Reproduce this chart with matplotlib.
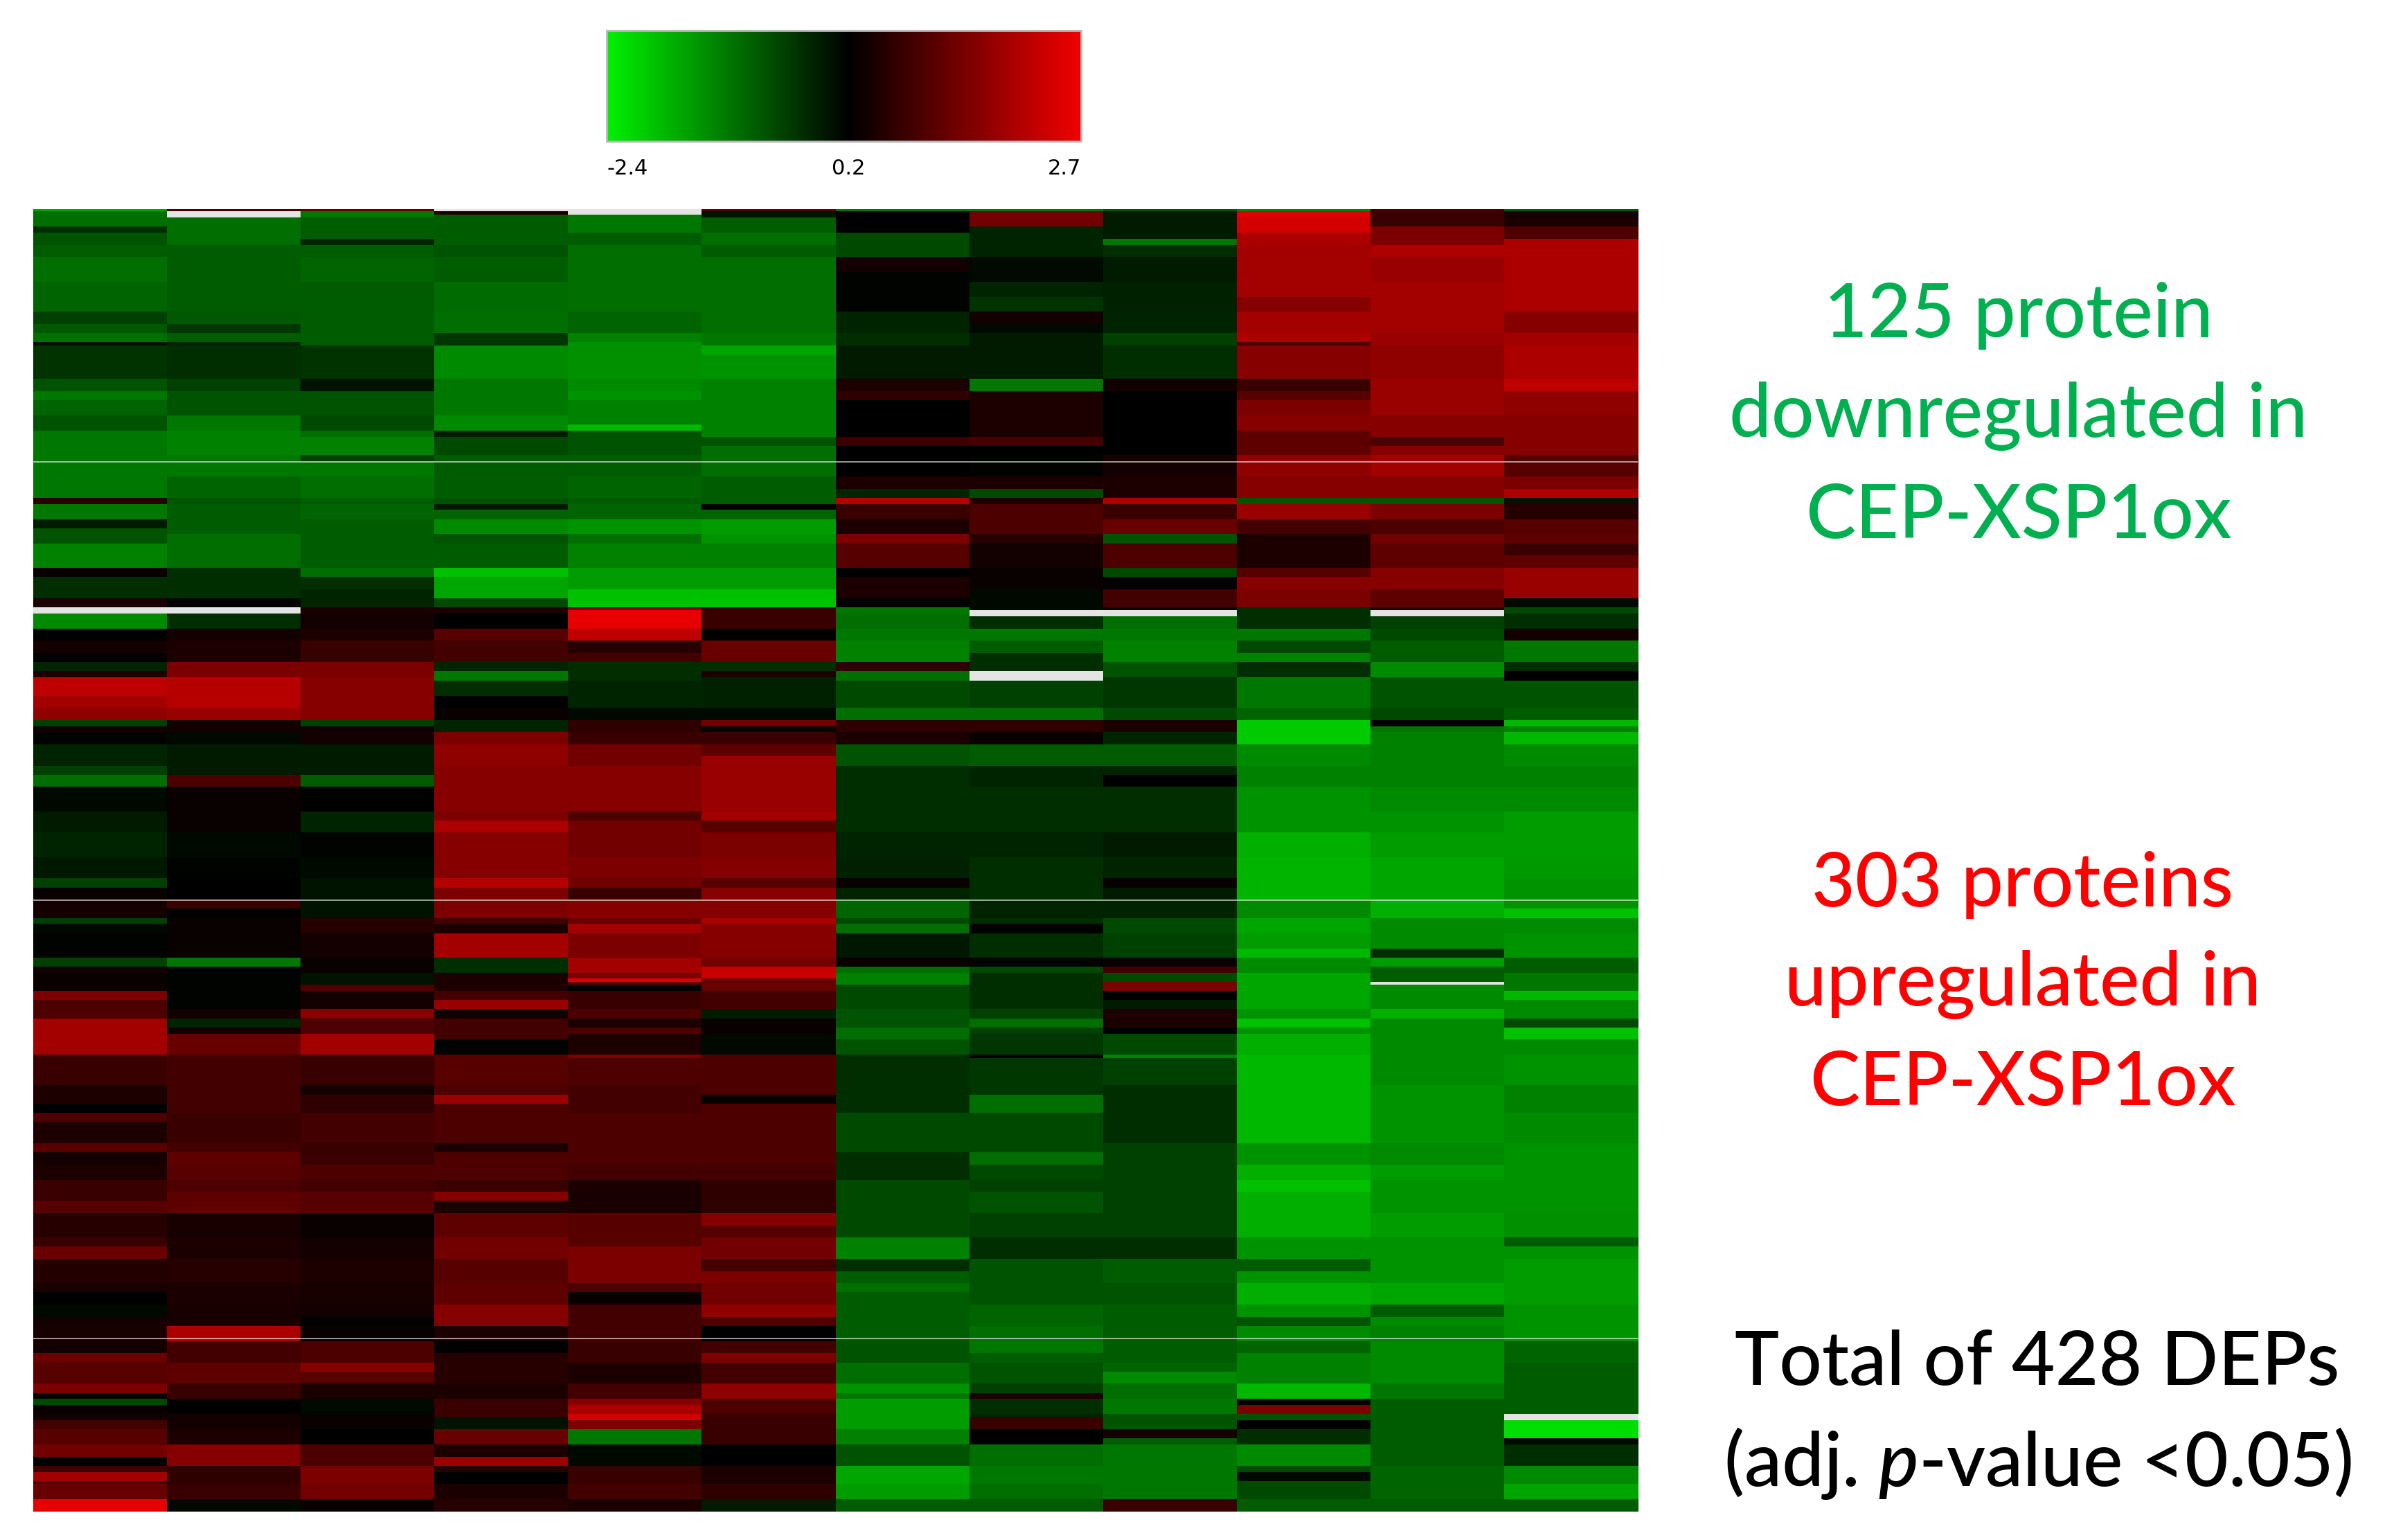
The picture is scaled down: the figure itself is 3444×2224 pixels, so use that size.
import numpy as np
import matplotlib.pyplot as plt
from matplotlib.colors import LinearSegmentedColormap

nan = np.nan

# log-ratio values, band by band (rows per band, 12 samples per row)
band_rows = [1, 1, 1, 3, 2, 2, 2, 4, 5, 3,
             5, 5, 4, 3, 3, 1, 3, 8, 4, 3,
             5, 3, 2, 2, 3, 3, 2, 5, 4, 3,
             2, 2, 3, 3, 2, 3, 4, 4, 3, 4,
             3, 3, 1, 1, 1, 4, 4, 4, 3, 3,
             2, 1, 5, 4, 4, 2, 2, 4, 4, 3,
             3, 4, 8, 3, 4, 8,
             7, 3, 4, 3, 3, 2, 3, 5, 3, 3,
             2, 2, 1, 1, 2, 3, 3, 3, 3, 2,
             2, 5, 1, 9, 3, 3, 3, 3, 7, 3,
             4, 5, 4, 3, 4, 4, 4, 3, 4, 4,
             4, 3, 4, 4, 3, 5, 4, 3, 3, 4,
             3, 2, 2, 3, 1, 1, 3, 3, 2, 4,
             3, 2, 3, 1, 5, 4]

band_values = [
    # 125 proteins down in CEP-XSP1ox
    [-1.6, 1.0, 1.2, nan, nan, 1.2, -1.1, -1.1, -0.7, -1.2, 0.9, -0.8],
    [-1.0, nan, -1.1, 0.5, nan, 0.0, 0.2, 1.4, -0.1, 2.5, 0.8, 0.4],
    [-1.0, nan, -1.1, -0.8, -1.1, 0.0, 0.2, 1.4, -0.1, 2.5, 0.8, 0.4],
    [-1.0, -1.0, -0.8, -0.8, -1.1, -0.8, 0.2, 1.4, -0.1, 2.4, 0.8, 0.5],
    [-0.3, -1.0, -0.8, -0.8, -1.1, -0.8, 0.2, -0.2, -0.1, 2.4, 1.5, 1.0],
    [-0.7, -1.0, -0.8, -0.8, -0.8, -1.0, -0.6, -0.2, -0.1, 2.0, 1.5, 1.0],
    [-0.7, -1.0, -0.2, -0.8, -0.8, -1.0, -0.6, -0.2, -1.1, 2.0, 1.5, 2.0],
    [-0.8, -0.8, -0.8, -0.7, -1.0, -0.8, -0.6, -0.2, -0.3, 1.9, 2.0, 2.0],
    [-1.0, -0.8, -0.9, -0.8, -1.0, -1.0, 0.4, 0.1, -0.1, 1.9, 1.8, 2.0],
    [-1.0, -0.8, -0.9, -0.8, -1.0, -1.0, 0.15, 0.1, -0.1, 1.9, 1.8, 2.0],
    [-0.9, -0.8, -0.8, -0.95, -1.0, -1.0, 0.15, -0.2, -0.15, 1.9, 1.9, 2.0],
    [-0.9, -0.8, -0.8, -0.95, -1.0, -1.0, 0.15, -0.35, -0.15, 1.6, 1.9, 2.0],
    [-0.5, -0.75, -0.8, -1.0, -0.9, -1.0, -0.2, 0.4, -0.2, 1.9, 1.9, 1.6],
    [-0.75, -0.4, -0.8, -1.0, -0.9, -1.0, -0.2, 0.1, -0.2, 1.9, 1.9, 1.6],
    [-1.0, -0.8, -0.8, -0.4, -1.2, -1.1, -0.3, -0.1, -0.5, 2.0, 1.8, 1.9],
    [0.0, -0.2, -0.8, -0.4, -1.4, -1.1, -0.3, -0.1, -0.5, 1.0, 1.8, 1.9],
    [-0.35, -0.3, -0.35, -1.3, -1.35, -1.6, -0.1, -0.1, -0.3, 1.6, 1.7, 2.0],
    [-0.35, -0.3, -0.35, -1.3, -1.35, -1.4, -0.1, -0.1, -0.3, 1.6, 1.7, 2.0],
    [-0.7, -0.5, 0.0, -1.1, -1.3, -1.2, 0.5, -1.1, 0.4, 0.8, 1.8, 2.2],
    [-1.1, -0.7, -0.7, -1.1, -1.4, -1.2, 0.7, 0.5, 0.2, 1.1, 1.8, 1.7],
    [-0.9, -0.7, -0.7, -1.1, -1.2, -1.2, 0.2, 0.5, 0.2, 1.5, 1.8, 1.7],
    [-0.7, -1.1, -0.6, -1.3, -1.2, -1.2, 0.2, 0.5, 0.2, 1.6, 1.6, 1.6],
    [-0.7, -1.1, -0.6, -1.3, -1.8, -1.2, 0.2, 0.5, 0.2, 1.6, 1.6, 1.6],
    [-1.1, -1.2, -1.0, -0.1, -0.7, -1.2, 0.2, 0.5, 0.2, 1.2, 1.6, 1.6],
    [-1.1, -1.2, -1.2, -0.6, -0.7, -0.7, 0.8, 0.9, 0.2, 1.2, 1.0, 1.6],
    [-1.1, -1.2, -1.2, -0.6, -0.7, -1.0, 0.2, 0.2, 0.2, 1.2, 1.6, 1.6],
    [-1.1, -1.1, -0.5, -0.8, -0.8, -1.0, 0.2, 0.15, 0.4, 1.7, 1.9, 1.1],
    [-1.1, -1.1, -1.1, -0.8, -0.8, -1.0, 0.2, 0.15, 0.4, 1.7, 1.9, 1.1],
    [-1.1, -0.9, -1.0, -0.8, -0.9, -0.8, 0.5, 0.5, 0.5, 1.6, 1.6, 1.5],
    [-1.1, -0.9, -1.0, -0.8, -0.9, -0.8, -0.2, -0.6, 0.5, 1.6, 1.6, 2.0],
    [0.6, -0.7, -0.8, -0.7, -0.8, -0.8, 2.1, 0.5, 2.0, -0.7, -0.7, 0.0],
    [-1.1, -0.8, -0.9, -0.1, -0.9, 0.2, 0.8, 1.0, 0.8, 1.8, 1.5, 0.6],
    [-1.1, -0.8, -0.9, -0.9, -0.9, -0.9, 0.8, 1.0, 0.8, 1.8, 1.5, 0.6],
    [-0.1, -0.8, -0.8, -1.3, -1.4, -1.5, 0.5, 1.0, 1.3, 0.9, 1.0, 1.1],
    [-0.7, -0.8, -0.8, -1.3, -1.4, -1.5, 0.5, 1.0, 1.3, 0.9, 1.0, 1.1],
    [-0.7, -1.0, -0.8, -0.7, -1.0, -1.4, 1.5, 0.6, -0.7, 0.5, 1.4, 1.2],
    [-1.2, -1.0, -0.8, -0.8, -1.2, -1.2, 1.1, 0.4, 1.0, 0.5, 1.2, 0.8],
    [-1.2, -1.0, -0.8, -0.8, -1.2, -1.2, 1.1, 0.4, 1.0, 0.5, 1.2, 1.2],
    [0.3, -0.3, -1.0, -1.9, -1.5, -1.5, 0.2, 0.3, -0.6, 1.1, 1.6, 1.8],
    [-0.3, -0.3, -0.3, -1.6, -1.5, -1.5, 0.5, 0.3, 0.2, 1.6, 1.6, 1.8],
    [-0.3, -0.3, -0.2, -1.6, -1.9, -1.9, 0.5, 0.1, 0.9, 1.5, 1.2, 1.8],
    [0.5, 0.2, -0.2, -0.6, -1.9, -1.9, 0.2, 0.1, 0.9, 1.5, 1.2, 0.1],
    # 303 proteins up in CEP-XSP1ox
    [nan, nan, 0.5, 0.5, 1.5, 0.8, -1.1, 0.1, 0.3, -0.3, 0.5, -0.6],
    [nan, nan, 0.5, 0.5, 2.6, 0.8, -1.1, nan, nan, -0.3, nan, -0.6],
    [-1.3, -0.3, 0.4, 0.2, 2.6, 0.8, -1.0, nan, nan, -0.3, nan, -0.3],
    [-1.3, -0.3, 0.4, 0.2, 2.6, 0.8, -1.0, -0.3, -1.0, -0.3, -0.5, -0.3],
    [0.2, 0.4, 0.5, 1.1, 2.2, 0.2, -1.1, -1.1, -1.1, -1.1, -0.6, 0.4],
    [0.4, 0.5, 0.8, 0.9, 0.6, 1.3, -1.2, -0.8, -1.2, -0.6, -0.8, -1.1],
    [0.2, 0.5, 0.8, 0.9, 0.9, 1.3, -1.2, -0.3, -1.2, -1.2, -0.8, -1.1],
    [-0.2, 1.5, 1.5, -0.2, -0.3, -0.3, 0.7, -0.3, -0.7, -0.3, -1.3, -0.3],
    [0.5, 1.5, 1.5, -1.1, -0.3, 0.5, -1.0, nan, -0.7, -0.3, -1.3, 0.2],
    [2.2, 2.1, 1.6, -1.1, -0.3, -0.15, -1.0, nan, -0.4, -1.1, -0.7, 0.2],
    [2.2, 2.1, 1.6, -0.3, -0.2, -0.15, -0.6, -0.5, -0.4, -1.1, -0.7, -0.7],
    [1.9, 2.1, 1.6, 0.2, -0.2, -0.15, -0.6, -0.5, -0.4, -1.1, -0.7, -0.7],
    [1.7, 1.8, 1.6, 0.3, 0.1, 0.1, -1.0, -1.0, -0.6, -0.9, -0.6, -0.8],
    [-0.5, 0.4, -0.5, -0.2, 0.7, 1.4, 0.7, 0.7, 0.5, -2.0, 0.2, -1.8],
    [0.4, 0.4, 0.4, -0.2, 0.7, 0.1, 0.7, 0.7, 0.5, -2.0, -1.1, -1.2],
    [0.15, 0.1, 0.4, 1.5, 0.8, 0.8, 0.5, 0.3, -0.2, -2.0, -1.2, -1.8],
    [-0.2, -0.1, -0.1, 1.7, 1.4, 1.2, -0.7, -0.8, -0.8, -1.3, -1.2, -1.3],
    [-0.2, -0.1, -0.1, 1.7, 1.4, 1.8, -0.7, -0.8, -0.8, -1.3, -1.2, -1.3],
    [-0.5, -0.1, -0.1, 1.6, 1.6, 1.8, -0.3, -0.2, -0.2, -1.2, -1.2, -1.2],
    [-1.0, 1.0, -0.8, 1.6, 1.6, 1.8, -0.3, -0.2, 0.2, -1.2, -1.2, -1.2],
    [0.1, 0.3, 0.2, 1.6, 1.6, 1.8, -0.3, -0.3, -0.3, -1.4, -1.3, -1.3],
    [-0.1, 0.3, -0.2, 1.5, 1.0, 1.9, -0.3, -0.3, -0.3, -1.4, -1.4, -1.5],
    [-0.1, 0.3, -0.2, 2.0, 1.4, 1.1, -0.3, -0.3, -0.3, -1.4, -1.4, -1.5],
    [-0.2, 0.1, 0.15, 1.6, 1.4, 1.5, -0.2, -0.2, -0.1, -1.7, -1.5, -1.5],
    [-0.05, 0.15, 0.1, 1.6, 1.5, 1.55, -0.15, -0.3, -0.2, -1.75, -1.6, -1.45],
    [-0.5, 0.2, 0.0, 2.1, 1.4, 1.1, 0.3, -0.3, 0.3, -1.75, -1.6, -1.4],
    [0.3, 0.2, 0.0, 1.5, 0.8, 1.6, -0.2, -0.3, -0.1, -1.75, -1.6, -1.4],
    [0.4, 0.8, 0.0, 1.5, 1.6, 1.6, -0.9, -0.2, -0.2, -1.3, -1.7, -1.4],
    [0.4, 0.2, 0.0, 1.5, 1.6, 1.6, -0.9, -0.2, -0.2, -1.3, -1.7, -1.9],
    [-0.5, 0.3, 0.6, 0.9, 1.3, 2.0, -0.6, -0.3, -0.6, -1.6, -1.3, -1.3],
    [0.1, 0.3, 0.6, 0.5, 1.9, 1.6, -1.0, 0.2, -0.6, -1.6, -1.3, -1.3],
    [0.15, 0.3, 0.4, 1.9, 1.5, 1.6, -0.05, -0.3, -0.5, -1.5, -1.3, -1.4],
    [0.15, 0.3, 0.4, 1.9, 1.5, 1.6, -0.05, -0.3, -0.5, -1.8, -0.3, -1.4],
    [-0.5, -1.1, 0.3, -0.3, 1.9, 1.4, 0.3, 0.2, 0.3, -1.3, -1.5, -0.8],
    [0.4, 0.15, 0.3, -0.3, 1.9, 2.3, -1.0, -0.6, 0.9, -1.3, -0.8, -0.8],
    [0.3, 0.15, 0.0, 0.5, 1.5, 2.3, -1.2, -0.3, -0.6, -1.6, -0.8, -1.1],
    [0.3, 0.15, 0.0, 0.5, 2.5, 1.3, -1.2, -0.3, -0.6, -1.6, -0.8, -1.1],
    [0.3, 0.15, 0.0, 0.5, 1.2, 1.3, -1.2, -0.3, 1.5, -1.6, nan, -1.1],
    [0.3, 0.15, 1.0, 0.5, 0.2, 1.3, -0.6, -0.3, 1.5, -1.6, -1.3, -1.1],
    [1.5, 0.15, 0.4, 0.9, 0.8, 0.9, -0.6, -0.3, 0.2, -1.6, -1.3, -1.8],
    [1.0, 0.15, 0.4, 1.8, 0.8, 0.9, -0.6, -0.3, -0.1, -1.6, -1.3, -1.3],
    [1.0, 0.4, 1.6, 0.4, 1.0, -0.1, -0.7, -0.5, 0.5, -1.4, -1.7, -1.3],
    [1.9, -0.2, 1.0, 0.9, 0.5, 0.3, -0.7, -1.0, 0.5, -1.9, -1.3, -0.6],
    [1.9, 0.4, 1.0, 0.9, 1.0, 0.3, -1.0, -0.5, 0.2, -1.4, -1.3, -1.9],
    [1.9, 1.3, 1.9, 0.9, 0.5, 0.1, -1.0, -0.4, -0.6, -1.7, -1.3, -1.9],
    [1.9, 1.3, 1.9, 0.15, 0.5, 0.1, -0.7, -0.4, -0.6, -1.7, -1.3, -1.3],
    [0.8, 0.9, 0.8, 1.1, 1.5, 1.0, -0.3, 0.2, -1.2, -1.8, -1.3, -1.4],
    [0.8, 0.9, 0.8, 1.1, 1.0, 1.0, -0.3, -0.4, -0.5, -1.8, -1.3, -1.4],
    [0.5, 0.9, 0.4, 1.0, 0.9, 1.0, -0.3, -0.4, -0.3, -1.8, -1.4, -1.2],
    [0.5, 0.9, 0.7, 1.8, 0.9, 0.3, -0.3, -1.0, -0.3, -1.8, -1.4, -1.2],
    [0.2, 0.9, 0.7, 1.0, 0.9, 1.0, -0.3, -1.0, -0.3, -1.8, -1.4, -1.2],
    [1.0, 0.8, 0.9, 1.0, 1.0, 1.0, -0.6, -0.6, -0.3, -1.8, -1.4, -1.3],
    [0.5, 0.8, 0.9, 1.0, 1.0, 1.0, -0.6, -0.6, -0.3, -1.8, -1.4, -1.3],
    [1.1, 0.9, 0.8, 0.5, 1.0, 1.0, -0.6, -0.6, -0.5, -1.4, -1.3, -1.4],
    [0.4, 1.2, 0.8, 1.0, 1.0, 1.0, -0.3, -1.0, -0.5, -1.4, -1.3, -1.4],
    [0.5, 1.1, 1.0, 1.0, 0.9, 0.9, -0.3, -0.6, -0.5, -1.7, -1.5, -1.4],
    [0.8, 1.0, 0.9, 0.8, 0.5, 0.7, -0.6, -0.5, -0.5, -1.9, -1.4, -1.4],
    [0.8, 1.2, 1.1, 1.6, 0.45, 0.7, -0.6, -0.7, -0.5, -1.7, -1.4, -1.4],
    [1.1, 1.2, 1.1, 0.5, 0.45, 0.7, -0.6, -0.7, -0.5, -1.7, -1.4, -1.4],
    [0.6, 0.45, 0.3, 1.2, 1.1, 1.6, -0.6, -0.5, -0.5, -1.7, -1.5, -1.35],
    [0.6, 0.45, 0.3, 1.2, 1.1, 1.1, -0.6, -0.5, -0.5, -1.7, -1.5, -1.35],
    [0.8, 0.5, 0.4, 1.4, 1.1, 1.4, -1.2, -0.3, -0.3, -1.4, -1.4, -0.8],
    [1.3, 0.5, 0.4, 1.4, 1.5, 1.4, -1.2, -0.3, -0.3, -1.4, -1.4, -1.4],
    [0.55, 0.6, 0.5, 1.1, 1.5, 0.9, -0.3, -0.7, -0.8, -0.8, -1.4, -1.5],
    [0.55, 0.6, 0.5, 1.1, 1.5, 1.5, -0.8, -0.7, -0.8, -1.4, -1.4, -1.5],
    [0.45, 0.5, 0.45, 1.2, 1.0, 1.4, -1.0, -0.7, -0.7, -1.7, -1.6, -1.5],
    [0.2, 0.5, 0.45, 1.2, 0.3, 1.4, -0.8, -0.7, -0.7, -1.7, -1.6, -1.5],
    [0.1, 0.45, 0.4, 1.6, 0.9, 1.7, -0.8, -0.9, -0.8, -1.4, -0.8, -1.4],
    [0.4, 0.45, 0.2, 1.6, 0.9, 1.0, -0.8, -0.9, -0.8, -0.7, -1.3, -1.4],
    [0.45, 2.0, 0.3, 0.5, 0.9, 0.2, -0.8, -1.0, -0.8, -1.3, -1.2, -1.4],
    [0.4, 0.9, 1.0, 0.2, 0.8, 0.9, -0.7, -1.1, -0.8, -0.9, -1.3, -0.9],
    [1.3, 0.9, 1.0, 0.6, 0.8, 1.5, -0.7, -0.8, -0.8, -1.2, -1.3, -0.9],
    [1.1, 1.2, 1.6, 0.6, 0.5, 0.9, -1.0, -0.7, -0.9, -1.2, -1.3, -0.8],
    [1.1, 1.2, 1.1, 0.6, 0.5, 0.9, -1.0, -0.7, -1.3, -1.2, -1.3, -0.8],
    [1.5, 0.8, 0.5, 0.5, 0.9, 1.7, -1.4, -0.5, -1.0, -1.8, -1.1, -0.8],
    [0.3, 0.8, 0.5, 0.5, 0.9, 1.7, -1.1, 0.5, -1.0, -1.8, -1.1, -0.8],
    [-0.6, 0.2, 0.1, 0.8, 1.6, 1.0, -1.5, -0.3, -1.1, 0.2, -0.8, -0.8],
    [0.3, 0.2, 0.1, 0.8, 2.0, 1.0, -1.5, -0.3, -1.1, 1.5, -0.8, -0.8],
    [0.4, 0.4, 0.3, 0.8, 2.4, 0.8, -1.5, -0.2, -0.7, -0.7, -0.8, nan],
    [0.4, 0.4, 0.3, 0.0, 2.4, 0.8, -1.5, 0.8, -0.7, -0.7, -0.8, nan],
    [0.9, 0.4, 0.3, 0.0, 1.5, 0.8, -1.5, 0.8, -0.7, 0.2, -0.8, -2.2],
    [1.1, 0.5, 0.2, 1.3, -1.1, 0.8, -1.2, 0.2, 0.4, -0.3, -0.8, -2.2],
    [1.1, 0.5, 0.2, 1.3, -1.1, 0.8, -1.2, 0.2, -0.8, -0.3, -0.8, 0.1],
    [1.4, 1.6, 1.0, 0.5, 0.1, 0.2, -0.7, -1.0, -1.1, -1.3, -0.8, -0.3],
    [0.2, 1.6, 1.0, 1.8, 0.1, 0.2, -0.7, -1.0, -1.1, -1.3, -0.8, -0.3],
    [0.9, 0.7, 1.5, 0.6, 0.8, 0.5, -1.6, -1.1, -1.1, -0.6, -0.9, -1.3],
    [1.9, 0.7, 1.5, 0.2, 0.8, 0.5, -1.6, -1.1, -1.1, 0.1, -0.9, -1.3],
    [0.9, 0.7, 1.5, 0.2, 0.8, 0.5, -1.6, -1.1, -1.1, -0.6, -0.9, -1.3],
    [1.3, 0.8, 1.4, 0.5, 0.9, 0.7, -1.5, -1.0, -1.1, -0.6, -0.9, -1.6],
    [2.6, 0.1, 0.3, 0.6, 0.5, -0.1, -0.8, -0.8, 0.8, -0.8, -0.8, -0.8],
]

seam_rows = [83, 227, 371]
cbar_ticks = [-2.4, 0.2, 2.7]
cbar_labels = ['-2.4', '0.2', '2.7']

assert len(band_rows) == len(band_values)
values = np.repeat(np.array(band_values), band_rows, axis=0)
assert values.shape == (428, 12), values.shape

plt.rcParams['mathtext.fontset'] = 'custom'
plt.rcParams['mathtext.rm'] = 'Lato'
plt.rcParams['mathtext.it'] = 'Lato:italic:medium'

vmin, vmid, vmax = -2.4, 0.2, 2.7
mid = (vmid - vmin) / (vmax - vmin)
cmap = LinearSegmentedColormap.from_list(
    'gkr', [(0, '#00f000'), (mid, '#000000'), (1, '#f00000')])
cmap.set_bad('#e4e4e4')

fig = plt.figure(figsize=(17.22, 11.12), dpi=200)

ax = fig.add_axes([0.0139, 0.0184, 0.6728, 0.8458])
im = ax.imshow(values, cmap=cmap, vmin=vmin, vmax=vmax,
               aspect='auto', interpolation='nearest')
for r in seam_rows:
    ax.axhline(r - 0.5, color='white', lw=0.6, alpha=0.7)
ax.axis('off')

# colour key on top
cax = fig.add_axes([0.2544, 0.9083, 0.1989, 0.0719])
cb = fig.colorbar(im, cax=cax, orientation='horizontal', ticks=cbar_ticks)
cb.set_ticklabels(cbar_labels)
cb.outline.set_edgecolor('#b8b8b8')
cb.outline.set_linewidth(1.0)
cax.tick_params(length=0, pad=9, labelsize=11)
for lab, ha in zip(cax.get_xticklabels(), ['left', 'center', 'right']):
    lab.set_ha(ha)
    lab.set_family(['Liberation Sans Narrow', 'DejaVu Sans'])

green = '#00b050'
red = '#ff0000'
fs = 39
txt = dict(ha='center', va='baseline', fontsize=fs, family='Lato',
           fontweight='medium')

for s, y in zip(['125 protein', 'downregulated in', 'CEP-XSP1ox'],
                [0.7810, 0.7163, 0.6506]):
    fig.text(0.8464, y, s, color=green, **txt)

for s, y in zip(['303 proteins', 'upregulated in', 'CEP-XSP1ox'],
                [0.4114, 0.3471, 0.2824]):
    fig.text(0.8481, y, s, color=red, **txt)

fig.text(0.8542, 0.1007, 'Total of 428 DEPs', color='black', **txt)
fig.text(0.8542, 0.0351, r'(adj. $\mathit{p}$-value <0.05)', color='black', **txt)

fig.savefig('out.png', dpi=200)
